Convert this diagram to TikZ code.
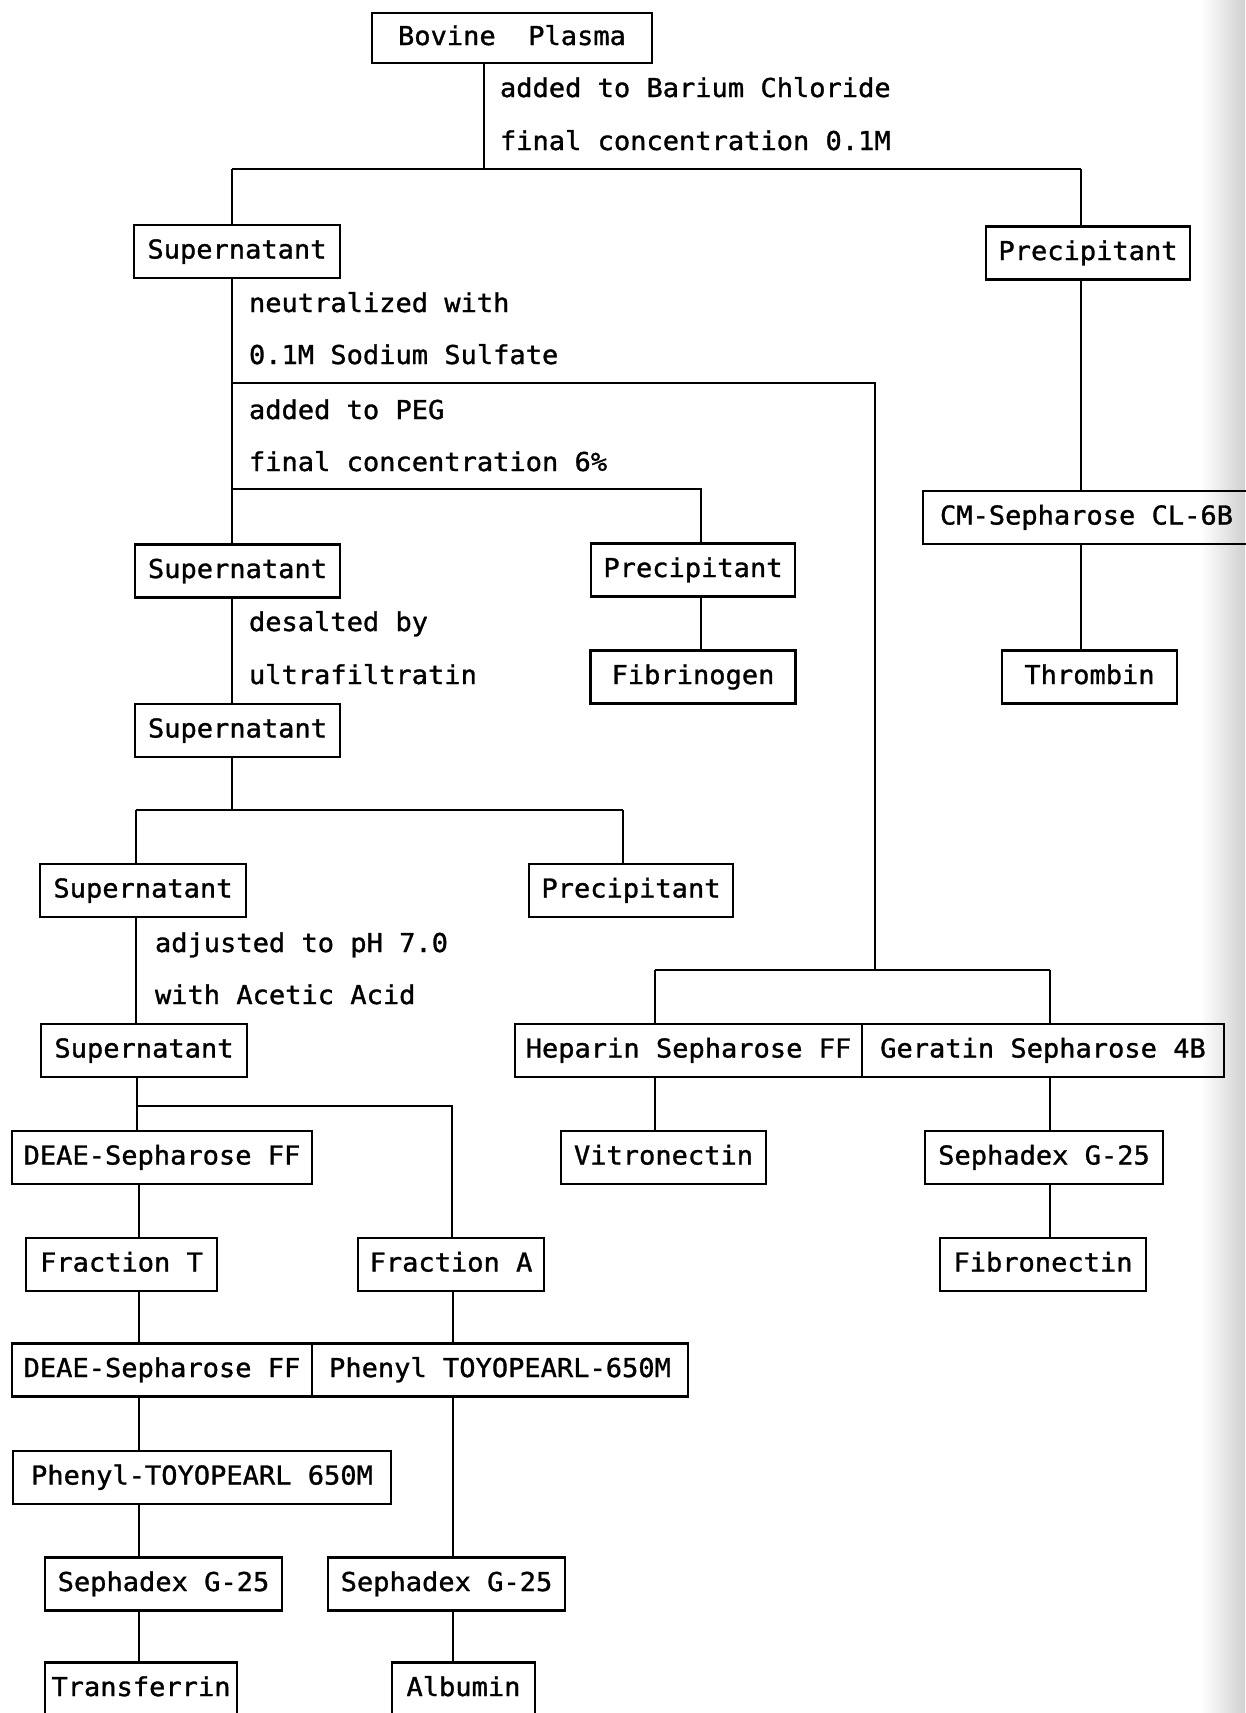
\documentclass[tikz,border=0pt]{standalone}
\usepackage{fontspec}
\newfontfamily\chartfont[FakeStretch=1.04, FakeBold=1.2]{DejaVu Sans Mono}
\begin{document}
\begin{tikzpicture}[x=1pt,y=-1pt,
  every path/.style={line width=2pt},
  stepbox/.style={draw, line width=2.2pt, inner sep=0pt, minimum height=53pt,
    font=\chartfont\fontsize{26}{30}\selectfont, text height=19pt, text depth=5pt},
  note/.style={anchor=west, inner sep=0pt,
    font=\chartfont\fontsize{26}{30}\selectfont, text height=19pt, text depth=5pt}]
\useasboundingbox (0,0) rectangle (1245,1713);
% faint shadow along the right page edge
\shade[left color=white, right color=black!18, draw=none] (1200,0) rectangle (1245,1713);

% ---- boxes ----
\node[stepbox, minimum width=280pt, minimum height=50pt] (bovine) at (512,38) {Bovine~~Plasma};
\node[stepbox, minimum width=206pt] (sup1) at (237,251.5) {Supernatant};
\node[stepbox, minimum width=204pt] (pre1) at (1088,253) {Precipitant};
\node[stepbox, minimum width=327pt] (cm) at (1086.5,517.5) {CM-Sepharose CL-6B};
\node[stepbox, minimum width=175pt] (thr) at (1089.5,677) {Thrombin};
\node[stepbox, minimum width=205pt] (sup2) at (237.5,571) {Supernatant};
\node[stepbox, minimum width=204pt] (pre2) at (693,570) {Precipitant};
\node[stepbox, minimum width=205pt] (fib) at (693,677) {Fibrinogen};
\node[stepbox, minimum width=205pt] (sup3) at (237.5,730.5) {Supernatant};
\node[stepbox, minimum width=206pt] (sup4) at (143,890.5) {Supernatant};
\node[stepbox, minimum width=204pt] (pre3) at (631,890.5) {Precipitant};
\node[stepbox, minimum width=206pt] (sup5) at (144,1050.5) {Supernatant};
\node[stepbox, minimum width=347pt] (hep) at (688.5,1050.5) {Heparin Sepharose FF};
\node[stepbox, minimum width=362pt] (ger) at (1043,1050.5) {Geratin Sepharose 4B};
\node[stepbox, minimum width=205pt] (vit) at (663.5,1157.5) {Vitronectin};
\node[stepbox, minimum width=238pt] (sephR) at (1044,1157.5) {Sephadex G-25};
\node[stepbox, minimum width=206pt] (fibro) at (1043,1264.5) {Fibronectin};
\node[stepbox, minimum width=300pt] (deae1) at (162,1157.5) {DEAE-Sepharose FF};
\node[stepbox, minimum width=191pt] (fracT) at (121.5,1264.5) {Fraction T};
\node[stepbox, minimum width=186pt] (fracA) at (451,1264.5) {Fraction A};
\node[stepbox, minimum width=300pt] (deae2) at (162,1370) {DEAE-Sepharose FF};
\node[stepbox, minimum width=376pt] (phen1) at (500,1370) {Phenyl TOYOPEARL-650M};
\node[stepbox, minimum width=378pt] (phen2) at (202,1477.5) {Phenyl-TOYOPEARL 650M};
\node[stepbox, minimum width=237pt] (seph1) at (163.5,1584) {Sephadex G-25};
\node[stepbox, minimum width=237pt] (seph2) at (446.5,1584) {Sephadex G-25};
\node[stepbox, minimum width=192pt] (transf) at (141,1689) {Transferrin};
\node[stepbox, minimum width=143pt] (alb) at (463.5,1689) {Albumin};

% ---- step notes ----
\node[note] (n1) at (499,90) {added to Barium Chloride};
\node[note] (n2) at (499,143) {final concentration 0.1M};
\node[note] (n3) at (248,305) {neutralized with};
\node[note] (n4) at (248,357) {0.1M Sodium Sulfate};
\node[note] (n5) at (248,412) {added to PEG};
\node[note] (n6) at (248,464) {final concentration 6\%};
\node[note] (n7) at (248,624) {desalted by};
\node[note] (n8) at (248,677) {ultrafiltratin};
\node[note] (n9) at (154,945) {adjusted to pH 7.0};
\node[note] (n10) at (154,997) {with Acetic Acid};

% ---- junctions ----
\coordinate (j1) at (484,169);
\coordinate (b1L) at (232,169);
\coordinate (b1R) at (1081,169);
\coordinate (j2) at (232,383);
\coordinate (hb) at (875,970);
\coordinate (hL) at (655,970);
\coordinate (hR) at (1050,970);
\coordinate (j3) at (232,489);
\coordinate (pl) at (701,489);
\coordinate (j4) at (232,810);
\coordinate (j4L) at (136,810);
\coordinate (j4R) at (623,810);
\coordinate (j5) at (137,1106);
\coordinate (j5R) at (452,1106);
\coordinate (lc) at (139,1106);
\coordinate (rc) at (453,1106);

% ---- connectors ----
\draw (bovine.south -| j1) -- (j1);
\draw (b1L) -- (b1R);
\draw (b1L) -- (sup1.north -| b1L);
\draw (b1R) -- (pre1.north -| b1R);
\draw (pre1.south -| b1R) -- (cm.north -| b1R);
\draw (cm.south -| b1R) -- (thr.north -| b1R);

\draw (sup1.south -| j3) -- (sup2.north -| j3);
\draw (j2) -| (hb);
\draw (hL) -- (hR);
\draw (hL) -- (hep.north -| hL);
\draw (hR) -- (ger.north -| hR);
\draw (hep.south -| hL) -- (vit.north -| hL);
\draw (ger.south -| hR) -- (sephR.north -| hR);
\draw (sephR.south -| hR) -- (fibro.north -| hR);

\draw (j3) -- (pl) -- (pre2.north -| pl);
\draw (pre2.south -| pl) -- (fib.north -| pl);
\draw (sup2.south -| j3) -- (sup3.north -| j3);

\draw (sup3.south -| j4) -- (j4);
\draw (j4L) -- (j4R);
\draw (j4L) -- (sup4.north -| j4L);
\draw (j4R) -- (pre3.north -| j4R);
\draw (sup4.south -| j4L) -- (sup5.north -| j4L);

\draw (sup5.south -| j5) -- (deae1.north -| j5);
\draw (j5) -- (j5R) -- (fracA.north -| j5R);
\draw (deae1.south -| lc) -- (fracT.north -| lc);
\draw (fracT.south -| lc) -- (deae2.north -| lc);
\draw (deae2.south -| lc) -- (phen2.north -| lc);
\draw (phen2.south -| lc) -- (seph1.north -| lc);
\draw (seph1.south -| lc) -- (transf.north -| lc);
\draw (fracA.south -| rc) -- (phen1.north -| rc);
\draw (phen1.south -| rc) -- (seph2.north -| rc);
\draw (seph2.south -| rc) -- (alb.north -| rc);
\end{tikzpicture}
\end{document}
